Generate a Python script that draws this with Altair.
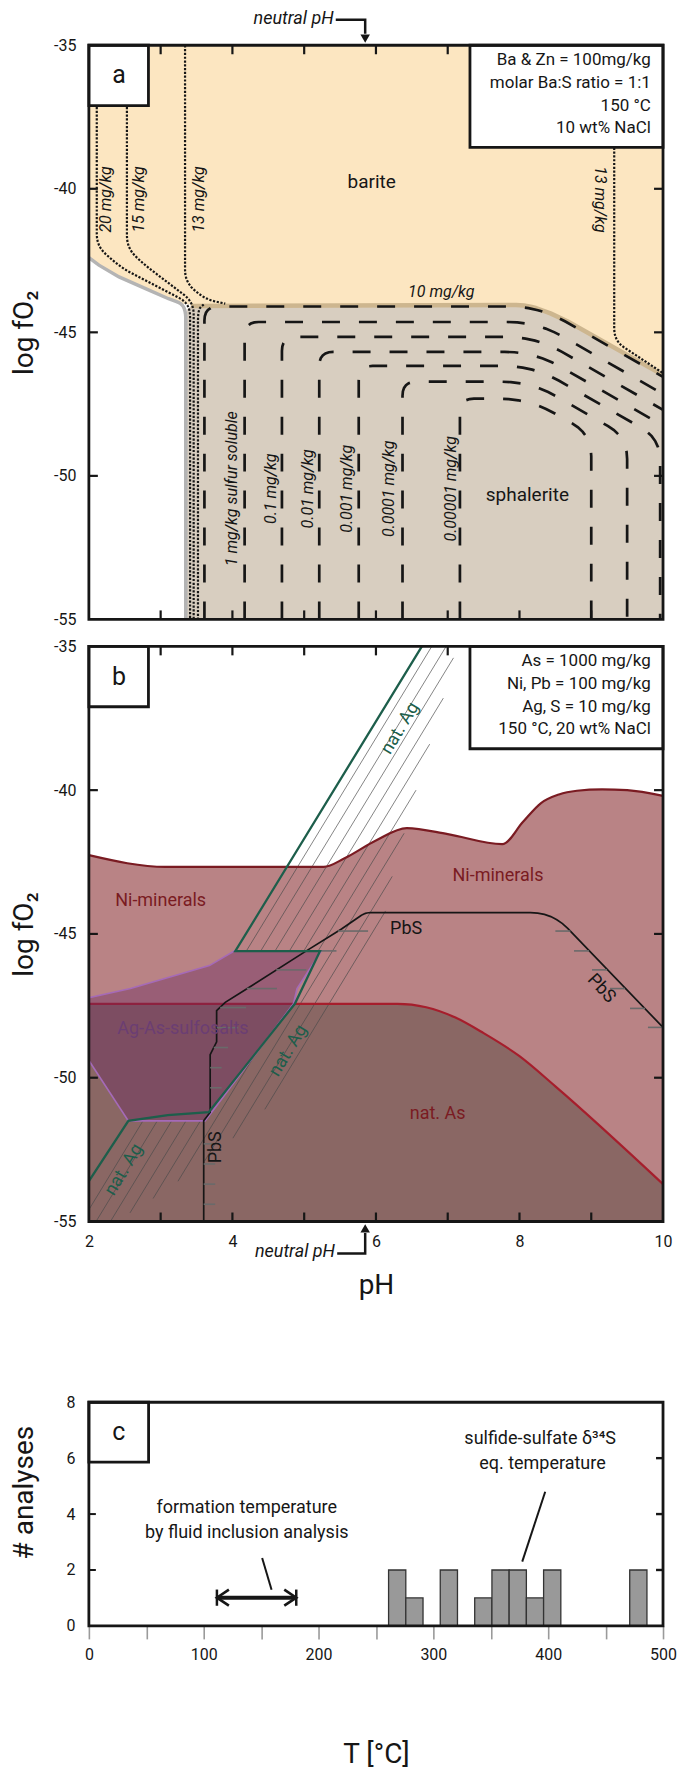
import altair as alt
import numpy as np
import pandas as pd

FONT = "Roboto"
W, HA, HB, HC = 575, 575, 576, 224
GAP_AB, SPACER_H = 27, 127
KX = W / 8.0
KYA = HA / 20.0
KYB = HB / 20.0
KXC = W / 500.0
KYC = HC / 8.0

BLACK = "#161616"
BARITE_COL = "#FCE6C1"
SPHAL_COL = "#D8CEC0"
NI_COL = "#B98385"
AS_COL = "#8A6764"
SULF_COL = "#6A2860"
NI_LINE = "#7A1B22"
AS_LINE = "#A61E2C"
AG_COL = "#1D5E4B"
SULF_EDGE = "#A56AB8"
RED_TXT = "#7A1B22"
PURP_TXT = "#6B3E73"

# ---------------- panel a data ----------------
BARITE_PH = [2.0, 2.14, 2.42, 2.79, 3.11, 3.3, 3.5, 8.12, 8.44, 8.68, 10.0]
BARITE_LOW = [-42.4, -42.66, -43.07, -43.48, -43.83, -44.0, -44.05, -44.05, -44.35, -44.63, -46.49]
SPH_PH = [3.35, 3.37, 3.43, 3.5, 8.12, 8.44, 8.68, 10.0]
SPH_TOP = [-44.45, -44.2, -44.08, -44.05, -44.05, -44.35, -44.63, -46.49]
GRAY_EDGE_PH = [2.0, 2.14, 2.42, 2.79, 3.11, 3.3, 3.35, 3.35]
GRAY_EDGE_FO2 = [-42.4, -42.66, -43.07, -43.48, -43.83, -44.0, -44.3, -55.0]
TAN_EDGE_PH = [3.42, 8.12, 8.44, 8.68, 10.0]
TAN_EDGE_FO2 = [-44.08, -44.05, -44.35, -44.63, -46.49]

ZN_LEFT_PH = [3.61, 4.17, 4.69, 5.21, 5.76, 6.37, 7.17]
ZN_TOP = [-44.1, -44.64, -45.16, -45.68, -46.17, -46.72, -47.31]
ZN_BEND_PH = [8.27, 8.25, 8.23, 8.21, 8.19, 8.16, 8.13]
ZN_END_PH = [10.0, 10.0, 10.0, 10.0, 9.96, 9.5, 9.0]
ZN_END_FO2 = [-46.55, -47.15, -47.7, -48.25, -48.7, -48.65, -48.55]

DOT_PATHS = {
    "d20": [(2.11, -37.15), (2.11, -42.0), (2.45, -42.75), (3.41, -44.0), (3.41, -55.0)],
    "d15": [(2.53, -37.15), (2.53, -42.05), (2.75, -42.6), (3.46, -43.95), (3.46, -55.0)],
    "d13": [(3.34, -35.0), (3.34, -43.25), (3.62, -43.85), (3.9, -44.0)],
    "d13b": [(3.6, -44.03), (3.52, -44.2), (3.52, -55.0)],
    "d13r": [(9.32, -38.57), (9.32, -45.3), (10.0, -46.42)],
}

A_INFO = ["Ba & Zn = 100mg/kg", "molar Ba:S ratio = 1:1", "150 °C", "10 wt% NaCl"]
B_INFO = ["As = 1000 mg/kg", "Ni, Pb = 100 mg/kg", "Ag, S = 10 mg/kg", "150 °C, 20 wt% NaCl"]
INFO_FO2 = [-35.52, -36.31, -37.1, -37.88]
INFO_PH = 9.83
LABEL_BOX = [2.0, 2.83, -37.1, -35.0]
INFO_BOX = [7.31, 10.0, -38.56, -35.0]

A_ROT_TXT = ["20 mg/kg", "15 mg/kg", "13 mg/kg"]
A_ROT_PH = [2.245, 2.70, 3.53]
A_ROT_FO2 = -40.37
ZN_TXT = ["1 mg/kg sulfur soluble", "0.1 mg/kg", "0.01 mg/kg", "0.001 mg/kg", "0.0001 mg/kg", "0.00001 mg/kg"]
ZN_TXT_PH = [3.99, 4.54, 5.05, 5.60, 6.18, 7.04]
ZN_TXT_FO2 = -50.45

NEUTRAL_PH = 5.85
NEUTRAL_TOP_FO2 = -34.11
NEUTRAL_BOT_FO2 = -56.11

# ---------------- panel b data ----------------
NI_PH = [2.0, 3.07, 5.27, 5.57, 6.0, 6.43, 7.0, 7.76, 8.05, 8.3, 8.55, 8.8, 9.15, 9.5, 10.0]
NI_TOP = [-42.26, -42.67, -42.67, -42.36, -41.75, -41.32, -41.53, -41.88, -41.1, -40.45, -40.15, -40.02, -39.97, -40.0, -40.2]
AS_PH = [2.0, 6.3, 6.7, 7.1, 7.5, 8.0, 8.5, 10.0]
AS_TOP = [-47.43, -47.43, -47.55, -47.9, -48.45, -49.25, -50.3, -53.7]
SULF_PH = [2.0, 2.58, 3.68, 4.03, 5.24, 4.9, 4.85, 3.62, 2.55, 2.0]
SULF_FO2 = [-47.22, -46.9, -46.1, -45.59, -45.59, -46.9, -47.43, -51.5, -51.5, -49.4]
AG_PH = [6.64, 4.04, 5.22, 4.87, 3.67, 3.1, 2.55, 2.0]
AG_FO2 = [-35.0, -45.6, -45.6, -47.43, -51.2, -51.3, -51.5, -53.6]
PBS_PH = [3.6, 3.6, 3.69, 3.69, 3.78, 3.78, 3.9, 4.23, 5.03, 5.52, 5.85, 8.46, 10.0]
PBS_FO2 = [-55.0, -51.5, -51.2, -49.2, -48.75, -47.67, -47.38, -46.86, -45.59, -44.83, -44.26, -44.26, -48.25]
PBS_TL_FO2 = [-44.9, -45.59, -46.25, -46.9, -47.56, -48.26, -48.95, -49.65, -50.35, -52.3, -53.0, -53.7, -54.4]
PBS_TL_PH = [5.47, 5.03, 4.61, 4.2, 3.83, 3.78, 3.74, 3.69, 3.69, 3.6, 3.6, 3.6, 3.6]
PBS_TL_LEN = [0.42, 0.42, 0.42, 0.42, 0.36, 0.3, 0.2, 0.16, 0.16, 0.16, 0.16, 0.16, 0.16]
PBS_TR_FO2 = [-44.9, -45.59, -46.25, -46.9, -47.59, -48.25]
PBS_TR_PH = [8.71, 8.97, 9.22, 9.47, 9.75, 10.0]
PBS_TR_LEN = 0.21
HATCH_C = [1.9, 1.9, 2.1, 2.1, 2.3, 2.3, 2.5, 2.5, 2.7, 2.7, 2.9, 2.9, 3.1, 3.3, 3.5]
HATCH_TOP = [-35.0, -51.5, -35.0, -51.5, -35.4, -51.5, -36.8, -51.5, -38.4, -51.5, -40.0, -49.1, -41.5, -43.0, -44.2]
HATCH_BOT = [-45.6, -54.55, -45.6, -55.0, -45.6, -55.0, -45.6, -54.7, -45.6, -54.2, -45.6, -53.6, -52.9, -52.1, -51.1]
HATCH_SLOPE = 4.1

# ---------------- panel c data ----------------
HIST_T0 = [261, 276, 306, 336, 351, 366, 381, 396, 471]
HIST_N = [2, 1, 2, 1, 2, 2, 1, 2, 2]
BIN_W = 15
FI_T = [111.5, 180.6]
FI_N = 1.01


# ---------------- helpers ----------------
def rounded(pts, radii, kx, ky, n=7):
    out = [tuple(pts[0])]
    for i in range(1, len(pts) - 1):
        r = radii[i]
        (x0, y0), (x1, y1), (x2, y2) = pts[i - 1], pts[i], pts[i + 1]
        if r <= 0:
            out.append((x1, y1))
            continue
        l0 = np.hypot((x0 - x1) * kx, (y0 - y1) * ky)
        l2 = np.hypot((x2 - x1) * kx, (y2 - y1) * ky)
        a = min(r, l0 / 2) / l0
        b = min(r, l2 / 2) / l2
        ax, ay = x1 + (x0 - x1) * a, y1 + (y0 - y1) * a
        bx, by = x1 + (x2 - x1) * b, y1 + (y2 - y1) * b
        for t in np.linspace(0, 1, n):
            out.append(((1 - t) ** 2 * ax + 2 * (1 - t) * t * x1 + t * t * bx,
                        (1 - t) ** 2 * ay + 2 * (1 - t) * t * y1 + t * t * by))
    out.append(tuple(pts[-1]))
    return out


def paths_df(paths):
    rows = []
    for pid, pts in paths.items():
        for k, (x, y) in enumerate(pts):
            rows.append({"id": pid, "o": k, "x": float(x), "y": float(y)})
    return pd.DataFrame(rows)


def line_layer(df, xs, ys, **mk):
    return alt.Chart(df).mark_line(**mk).encode(
        x=alt.X("x:Q", scale=xs), y=alt.Y("y:Q", scale=ys),
        detail="id:N", order="o:Q")


def rule_layer(df, xs, ys, **mk):
    return alt.Chart(df).mark_rule(**mk).encode(
        x=alt.X("x:Q", scale=xs), x2="x2:Q",
        y=alt.Y("y:Q", scale=ys), y2="y2:Q")


def rect_layer(df, xs, ys, **mk):
    return alt.Chart(df).mark_rect(**mk).encode(
        x=alt.X("x:Q", scale=xs), x2="x2:Q",
        y=alt.Y("y:Q", scale=ys), y2="y2:Q")


def text_layer(df, xs, ys, **mk):
    mk.setdefault("font", FONT)
    return alt.Chart(df).mark_text(**mk).encode(
        x=alt.X("x:Q", scale=xs), y=alt.Y("y:Q", scale=ys), text="t:N")


def point_layer(df, xs, ys, **mk):
    return alt.Chart(df).mark_point(**mk).encode(
        x=alt.X("x:Q", scale=xs), y=alt.Y("y:Q", scale=ys))


def tdf(xs, ys, ts):
    return pd.DataFrame({"x": xs, "y": ys, "t": ts})


def inward_ticks(xv, yv, xdom, ydom, kx, ky, L, top=True, bottom=True, left=True, right=True):
    rows = []
    for v in xv:
        if bottom:
            rows.append((v, ydom[0], v, ydom[0] + L / ky))
        if top:
            rows.append((v, ydom[1], v, ydom[1] - L / ky))
    for v in yv:
        if left:
            rows.append((xdom[0], v, xdom[0] + L / kx, v))
        if right:
            rows.append((xdom[1], v, xdom[1] - L / kx, v))
    return pd.DataFrame(rows, columns=["x", "y", "x2", "y2"])


def box_df(b):
    return pd.DataFrame({"x": [b[0]], "x2": [b[1]], "y": [b[2]], "y2": [b[3]]})


PH_SC = alt.Scale(domain=[2, 10], nice=False, zero=False)
FO2_SC = alt.Scale(domain=[-55, -35], nice=False, zero=False)
T_SC = alt.Scale(domain=[0, 500], nice=False, zero=False)
N_SC = alt.Scale(domain=[0, 8], nice=False, zero=False)
TITLE_X = -64


def fo2_axis():
    return alt.Axis(values=[-55, -50, -45, -40, -35], labelExpr="'' + datum.value",
                    ticks=False, tickSize=0, domain=False, grid=False, labelPadding=13,
                    labelFontSize=16, title="log fO₂", titleFontSize=28,
                    titleFontWeight="normal", titleX=TITLE_X, titleBaseline="middle", titleAngle=270)


HIDDEN_X = alt.Axis(labels=False, ticks=False, domain=False, grid=False, title="")
FRAME_W = 2.8

# ================= PANEL A =================
a_layers = []
a_layers.append(alt.Chart(pd.DataFrame({"x": BARITE_PH, "y": BARITE_LOW, "y2": -35.0}))
                .mark_area(color=BARITE_COL, opacity=1)
                .encode(x=alt.X("x:Q", scale=PH_SC, axis=HIDDEN_X),
                        y=alt.Y("y:Q", scale=FO2_SC, axis=fo2_axis()), y2="y2:Q"))
a_layers.append(alt.Chart(pd.DataFrame({"x": SPH_PH, "y": SPH_TOP, "y2": -55.0}))
                .mark_area(color=SPHAL_COL, opacity=1)
                .encode(x=alt.X("x:Q", scale=PH_SC), y=alt.Y("y:Q", scale=FO2_SC), y2="y2:Q"))
gray_pts = rounded(list(zip(GRAY_EDGE_PH, GRAY_EDGE_FO2)), [0, 0, 0, 0, 0, 6, 6, 0], KX, KYA)
a_layers.append(line_layer(paths_df({"g": gray_pts}), PH_SC, FO2_SC, color="#B4B4B4", strokeWidth=3.5))
tan_pts = rounded(list(zip(TAN_EDGE_PH, TAN_EDGE_FO2)), [0, 12, 0, 0, 0], KX, KYA)
a_layers.append(line_layer(paths_df({"t": tan_pts}), PH_SC, FO2_SC, color="#CDB68F", strokeWidth=4.5))

zn_paths = {}
for i in range(len(ZN_LEFT_PH)):
    pts = [(ZN_LEFT_PH[i], -55.0), (ZN_LEFT_PH[i], ZN_TOP[i]), (ZN_BEND_PH[i], ZN_TOP[i]),
           (ZN_END_PH[i], ZN_END_FO2[i])]
    radii = [0, 14, 30, 0]
    if ZN_END_PH[i] < 10:
        pts.append((ZN_END_PH[i], -55.0))
        radii = [0, 14, 30, 22, 0]
    zn_paths["z%d" % i] = rounded(pts, radii, KX, KYA)
a_layers.append(line_layer(paths_df(zn_paths), PH_SC, FO2_SC, color=BLACK, strokeWidth=2.7,
                           strokeDash=[18, 19]))

dot_paths = {k: rounded(v, [0] + [12] * (len(v) - 2) + [0], KX, KYA) for k, v in DOT_PATHS.items()}
a_layers.append(line_layer(paths_df(dot_paths), PH_SC, FO2_SC, color=BLACK, strokeWidth=2.2,
                           strokeDash=[2.2, 1.6]))

a_layers.append(rule_layer(inward_ticks([3, 4, 5, 6, 7, 8, 9], [-40, -45, -50], [2, 10], [-55, -35], KX, KYA, 9),
                           PH_SC, FO2_SC, color=BLACK, strokeWidth=2.2))
a_layers.append(rect_layer(box_df(LABEL_BOX), PH_SC, FO2_SC, fill="white", stroke=BLACK, strokeWidth=FRAME_W))
a_layers.append(rect_layer(box_df(INFO_BOX), PH_SC, FO2_SC, fill="white", stroke=BLACK, strokeWidth=FRAME_W))
a_layers.append(rect_layer(box_df([2, 10, -55, -35]), PH_SC, FO2_SC, fill="transparent", stroke=BLACK,
                           strokeWidth=FRAME_W))

a_layers.append(text_layer(tdf([2.42], [-36.05], ["a"]), PH_SC, FO2_SC, fontSize=25, color=BLACK))
a_layers.append(text_layer(tdf([INFO_PH] * 4, INFO_FO2, A_INFO), PH_SC, FO2_SC, fontSize=17, align="right",
                           color=BLACK))
a_layers.append(text_layer(tdf([5.94], [-39.77], ["barite"]), PH_SC, FO2_SC, fontSize=19, color=BLACK))
a_layers.append(text_layer(tdf([8.11], [-50.65], ["sphalerite"]), PH_SC, FO2_SC, fontSize=19, color=BLACK))
a_layers.append(text_layer(tdf([6.91], [-43.6], ["10 mg/kg"]), PH_SC, FO2_SC, fontSize=16,
                           fontStyle="italic", color=BLACK))
a_layers.append(text_layer(tdf(A_ROT_PH, [A_ROT_FO2] * 3, A_ROT_TXT), PH_SC, FO2_SC, fontSize=16,
                           fontStyle="italic", angle=270, color=BLACK))
a_layers.append(text_layer(tdf([9.12], [A_ROT_FO2], ["13 mg/kg"]), PH_SC, FO2_SC, fontSize=16,
                           fontStyle="italic", angle=90, color=BLACK))
a_layers.append(text_layer(tdf(ZN_TXT_PH, [ZN_TXT_FO2] * 6, ZN_TXT), PH_SC, FO2_SC, fontSize=16,
                           fontStyle="italic", angle=270, color=BLACK))
# neutral pH arrow (top)
a_layers.append(line_layer(paths_df({"n": [(5.44, NEUTRAL_TOP_FO2), (NEUTRAL_PH, NEUTRAL_TOP_FO2),
                                           (NEUTRAL_PH, -34.6)]}),
                           PH_SC, FO2_SC, color=BLACK, strokeWidth=2.5))
a_layers.append(point_layer(pd.DataFrame({"x": [NEUTRAL_PH], "y": [-34.77]}), PH_SC, FO2_SC,
                            shape="triangle-down", size=90, filled=True, color=BLACK, opacity=1))
a_layers.append(text_layer(tdf([5.41], [NEUTRAL_TOP_FO2 + 0.04], ["neutral pH"]), PH_SC, FO2_SC, fontSize=18,
                           fontStyle="italic", align="right", color=BLACK))

panel_a = alt.layer(*a_layers).properties(width=W, height=HA)

# ================= PANEL B =================
b_layers = []
b_layers.append(alt.Chart(pd.DataFrame({"x": NI_PH, "y": NI_TOP, "y2": -55.0}))
                .mark_area(color=NI_COL, opacity=1, interpolate="monotone")
                .encode(x=alt.X("x:Q", scale=PH_SC,
                                axis=alt.Axis(values=[2, 4, 6, 8, 10], labelExpr="'' + datum.value",
                                              ticks=False, tickSize=0, domain=False,
                                              grid=False, labelPadding=12, labelFontSize=16, labelFlush=False,
                                              title="pH", titleFontSize=28, titleFontWeight="normal",
                                              titleY=64, titleBaseline="middle")),
                        y=alt.Y("y:Q", scale=FO2_SC, axis=fo2_axis()), y2="y2:Q"))
b_layers.append(alt.Chart(pd.DataFrame({"x": AS_PH, "y": AS_TOP, "y2": -55.0}))
                .mark_area(color=AS_COL, opacity=1, interpolate="monotone")
                .encode(x=alt.X("x:Q", scale=PH_SC), y=alt.Y("y:Q", scale=FO2_SC), y2="y2:Q"))
hatch = pd.DataFrame({
    "x": [c + (t + 55) / HATCH_SLOPE for c, t in zip(HATCH_C, HATCH_TOP)],
    "y": HATCH_TOP,
    "x2": [c + (b + 55) / HATCH_SLOPE for c, b in zip(HATCH_C, HATCH_BOT)],
    "y2": HATCH_BOT})
b_layers.append(rule_layer(hatch, PH_SC, FO2_SC, color="#4a4a4a", strokeWidth=0.8, opacity=0.85))
b_layers.append(line_layer(paths_df({"ni": list(zip(NI_PH, NI_TOP))}), PH_SC, FO2_SC, color=NI_LINE,
                           strokeWidth=2.2, interpolate="monotone"))
b_layers.append(line_layer(paths_df({"as": list(zip(AS_PH, AS_TOP))}), PH_SC, FO2_SC, color=AS_LINE,
                           strokeWidth=2.2, interpolate="monotone"))
b_layers.append(line_layer(paths_df({"s": list(zip(SULF_PH, SULF_FO2))}), PH_SC, FO2_SC,
                           fill=SULF_COL, fillOpacity=0.4, stroke=SULF_EDGE, strokeWidth=1.6))
pbs_pts = rounded(list(zip(PBS_PH, PBS_FO2)), [0] * 10 + [5, 22, 0], KX, KYB)
b_layers.append(line_layer(paths_df({"p": pbs_pts}), PH_SC, FO2_SC, color=BLACK, strokeWidth=1.7))
pbs_ticks = pd.DataFrame({
    "x": PBS_TL_PH + [x - PBS_TR_LEN for x in PBS_TR_PH],
    "x2": [x + l for x, l in zip(PBS_TL_PH, PBS_TL_LEN)] + PBS_TR_PH,
    "y": PBS_TL_FO2 + PBS_TR_FO2,
    "y2": PBS_TL_FO2 + PBS_TR_FO2})
b_layers.append(rule_layer(pbs_ticks, PH_SC, FO2_SC, color="#6a6a6a", strokeWidth=1.6))
b_layers.append(line_layer(paths_df({"ag": list(zip(AG_PH, AG_FO2))}), PH_SC, FO2_SC, color=AG_COL,
                           strokeWidth=2.3))

b_layers.append(rule_layer(inward_ticks([3, 4, 5, 6, 7, 8, 9], [-40, -45, -50], [2, 10], [-55, -35], KX, KYB, 9),
                           PH_SC, FO2_SC, color=BLACK, strokeWidth=2.2))
b_layers.append(rect_layer(box_df(LABEL_BOX), PH_SC, FO2_SC, fill="white", stroke=BLACK, strokeWidth=FRAME_W))
b_layers.append(rect_layer(box_df(INFO_BOX), PH_SC, FO2_SC, fill="white", stroke=BLACK, strokeWidth=FRAME_W))
b_layers.append(rect_layer(box_df([2, 10, -55, -35]), PH_SC, FO2_SC, fill="transparent", stroke=BLACK,
                           strokeWidth=FRAME_W))

b_layers.append(text_layer(tdf([2.42], [-36.05], ["b"]), PH_SC, FO2_SC, fontSize=25, color=BLACK))
b_layers.append(text_layer(tdf([INFO_PH] * 4, INFO_FO2, B_INFO), PH_SC, FO2_SC, fontSize=17, align="right",
                           color=BLACK))
b_layers.append(text_layer(tdf([3.0, 7.7], [-43.85, -42.99], ["Ni-minerals", "Ni-minerals"]), PH_SC, FO2_SC,
                           fontSize=18, color=RED_TXT))
b_layers.append(text_layer(tdf([6.86], [-51.25], ["nat. As"]), PH_SC, FO2_SC, fontSize=18, color=RED_TXT))
b_layers.append(text_layer(tdf([3.31], [-48.3], ["Ag-As-sulfosalts"]), PH_SC, FO2_SC, fontSize=18,
                           color=PURP_TXT))
b_layers.append(text_layer(tdf([6.42], [-44.83], ["PbS"]), PH_SC, FO2_SC, fontSize=18, color=BLACK))
b_layers.append(text_layer(tdf([9.14], [-46.9], ["PbS"]), PH_SC, FO2_SC, fontSize=18, angle=47, color=BLACK))
b_layers.append(text_layer(tdf([3.77], [-52.42], ["PbS"]), PH_SC, FO2_SC, fontSize=18, angle=270, color=BLACK))
b_layers.append(text_layer(tdf([6.34, 4.78, 2.49], [-37.85, -49.06, -53.2], ["nat. Ag"] * 3), PH_SC, FO2_SC,
                           fontSize=18, angle=301, color=AG_COL))
# neutral pH arrow (bottom)
b_layers.append(line_layer(paths_df({"n": [(5.46, NEUTRAL_BOT_FO2), (NEUTRAL_PH, NEUTRAL_BOT_FO2),
                                           (NEUTRAL_PH, -55.4)]}),
                           PH_SC, FO2_SC, color=BLACK, strokeWidth=2.5))
b_layers.append(point_layer(pd.DataFrame({"x": [NEUTRAL_PH], "y": [-55.24]}), PH_SC, FO2_SC,
                            shape="triangle-up", size=90, filled=True, color=BLACK, opacity=1))
b_layers.append(text_layer(tdf([5.43], [NEUTRAL_BOT_FO2 + 0.04], ["neutral pH"]), PH_SC, FO2_SC, fontSize=18,
                           fontStyle="italic", align="right", color=BLACK))

panel_b = alt.layer(*b_layers).properties(width=W, height=HB)

# ================= spacer =================
spacer = alt.Chart(pd.DataFrame({"x": [0.0]})).mark_point(opacity=0).encode(
    x=alt.X("x:Q", axis=None), y=alt.Y("x:Q", axis=None)).properties(width=W, height=SPACER_H)

# ================= PANEL C =================
c_layers = []
hist = pd.DataFrame({"x": HIST_T0, "x2": [t + BIN_W for t in HIST_T0], "y": [0] * len(HIST_N), "y2": HIST_N})
c_layers.append(alt.Chart(hist).mark_rect(fill="#999999", stroke="#333333", strokeWidth=1.3).encode(
    x=alt.X("x:Q", scale=T_SC,
            axis=alt.Axis(values=list(range(0, 501, 50)),
                          labelExpr="datum.value % 100 == 0 ? '' + datum.value : ''",
                          ticks=True, tickSize=13, tickColor="#9a9a9a", tickWidth=1.6, domain=False,
                          grid=False, labelPadding=8, labelFontSize=16, labelFlush=False, labelOverlap=False,
                          title="T [°C]", titleFontSize=28, titleFontWeight="normal", titleY=129,
                          titleBaseline="middle")),
    x2="x2:Q",
    y=alt.Y("y:Q", scale=N_SC,
            axis=alt.Axis(values=[0, 2, 4, 6, 8], ticks=False, tickSize=0, domain=False, grid=False,
                          labelPadding=14, labelFontSize=16, title="# analyses", titleFontSize=28,
                          titleFontWeight="normal", titleX=TITLE_X, titleY=90, titleBaseline="middle",
                          titleAngle=270)),
    y2="y2:Q"))
c_layers.append(rule_layer(inward_ticks([], [2, 4, 6], [0, 500], [0, 8], KXC, KYC, 7, left=False),
                           T_SC, N_SC, color=BLACK, strokeWidth=2.4))
c_layers.append(rule_layer(inward_ticks([], [2, 4], [0, 500], [0, 8], KXC, KYC, 7, right=False),
                           T_SC, N_SC, color=BLACK, strokeWidth=2.0))
c_layers.append(rect_layer(box_df([0, 52, 5.86, 8]), T_SC, N_SC, fill="white", stroke=BLACK,
                           strokeWidth=FRAME_W))
c_layers.append(rect_layer(box_df([0, 500, 0, 8]), T_SC, N_SC, fill="transparent", stroke=BLACK,
                           strokeWidth=FRAME_W))
# fluid inclusion range arrow
c_layers.append(rule_layer(pd.DataFrame({"x": [FI_T[0]], "x2": [FI_T[1]], "y": [FI_N], "y2": [FI_N]}),
                           T_SC, N_SC, color=BLACK, strokeWidth=4))
c_layers.append(rule_layer(pd.DataFrame({"x": FI_T, "x2": FI_T, "y": [FI_N - 0.29] * 2, "y2": [FI_N + 0.29] * 2}),
                           T_SC, N_SC, color=BLACK, strokeWidth=2.5))
c_layers.append(point_layer(pd.DataFrame({"x": [FI_T[0]], "y": [FI_N]}), T_SC, N_SC,
                            shape="M 1.5 -1 L 0 0 L 1.5 1", size=256, filled=False, color=BLACK,
                            strokeWidth=2.6, opacity=1))
c_layers.append(point_layer(pd.DataFrame({"x": [FI_T[1]], "y": [FI_N]}), T_SC, N_SC,
                            shape="M -1.5 -1 L 0 0 L -1.5 1", size=256, filled=False, color=BLACK,
                            strokeWidth=2.6, opacity=1))
c_layers.append(rule_layer(pd.DataFrame({"x": [150.9, 397.4], "y": [2.43, 4.8], "x2": [159.1, 377.4],
                                         "y2": [1.29, 2.3]}), T_SC, N_SC, color=BLACK, strokeWidth=2))
c_layers.append(text_layer(tdf([26], [6.93], ["c"]), T_SC, N_SC, fontSize=25, color=BLACK))
c_layers.append(text_layer(tdf([137.5, 137.5, 393, 395], [4.21, 3.32, 6.68, 5.78],
                               ["formation temperature", "by fluid inclusion analysis",
                                "sulfide-sulfate δ³⁴S", "eq. temperature"]),
                           T_SC, N_SC, fontSize=18, color=BLACK))

panel_c = alt.layer(*c_layers).properties(width=W, height=HC)

chart = alt.vconcat(panel_a, panel_b, spacer, panel_c, spacing=GAP_AB, bounds="flush").properties(
    padding={"left": 3, "top": 0, "right": 0, "bottom": 0}
).configure_view(stroke=None).configure_axis(
    labelFont=FONT, titleFont=FONT, labelColor=BLACK, titleColor=BLACK, grid=False
).configure_text(font=FONT)

chart.save("out.html", embed_options={"renderer": "svg", "actions": False})
